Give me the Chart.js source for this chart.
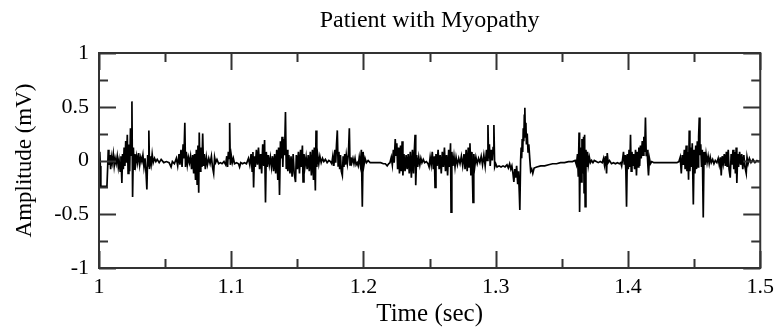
<!DOCTYPE html>
<html>
<head>
<meta charset="utf-8">
<script src="https://cdn.jsdelivr.net/npm/chart.js@4"></script>
<style>
  html, body { margin: 0; padding: 0; background: #fff; }
  #wrap { width: 780px; height: 329px; }
</style>
</head>
<body>
<div id="wrap"><canvas id="emg"></canvas></div>
<script>
const xTicks = [1, 1.1, 1.2, 1.3, 1.4, 1.5];
const yTicks = [-1, -0.5, 0, 0.5, 1];
const xMinor = [1.05, 1.15, 1.25, 1.35, 1.45];
const yMinor = [-0.75, -0.25, 0.25, 0.75];

// EMG trace: [time (sec), amplitude (mV)]
const samples = [
  [1.0000, 0.02], [1.0006, 0.08], [1.0010, -0.05], [1.0014, -0.24], [1.0030, -0.24],
  [1.0045, -0.24], [1.0060, -0.24], [1.0066, -0.05], [1.0070, 0.10], [1.0075, -0.04],
  [1.0082, 0.05], [1.0088, -0.08], [1.0094, 0.03], [1.0100, -0.02], [1.0108, 0.06],
  [1.0115, -0.05], [1.0122, 0.02], [1.0130, -0.03], [1.0138, 0.04], [1.0146, -0.06],
  [1.0152, 0.00], [1.0160, -0.10], [1.0166, 0.04], [1.0173, -0.21], [1.0178, 0.06],
  [1.0184, -0.08], [1.0190, 0.12], [1.0196, -0.05], [1.0202, 0.18], [1.0208, -0.02],
  [1.0214, 0.24], [1.0220, -0.12], [1.0226, 0.15], [1.0232, -0.10], [1.0238, 0.30],
  [1.0244, 0.05], [1.0249, 0.55], [1.0254, -0.34], [1.0260, 0.12], [1.0266, -0.08],
  [1.0272, 0.06], [1.0278, -0.03], [1.0285, 0.04], [1.0292, -0.02], [1.0300, 0.07],
  [1.0308, -0.04], [1.0316, 0.03], [1.0324, -0.01], [1.0332, 0.05], [1.0340, -0.06],
  [1.0348, 0.02], [1.0356, -0.12], [1.0362, -0.27], [1.0368, 0.05], [1.0374, -0.05],
  [1.0377, 0.28], [1.0382, -0.08], [1.0388, 0.04], [1.0395, -0.03], [1.0402, 0.06],
  [1.0410, -0.02], [1.0420, 0.02], [1.0430, -0.01], [1.0440, 0.01], [1.0455, -0.02],
  [1.0470, 0.01], [1.0490, -0.02], [1.0510, -0.01], [1.0530, -0.02], [1.0545, -0.06],
  [1.0555, -0.01], [1.0570, -0.03], [1.0585, 0.02], [1.0595, -0.05], [1.0605, 0.06],
  [1.0612, -0.04], [1.0620, 0.10], [1.0628, -0.06], [1.0636, 0.15], [1.0642, 0.02],
  [1.0649, 0.35], [1.0654, -0.06], [1.0660, 0.08], [1.0668, -0.04], [1.0676, 0.03],
  [1.0684, -0.02], [1.0692, 0.04], [1.0700, -0.08], [1.0708, 0.05], [1.0716, -0.12],
  [1.0722, 0.06], [1.0730, -0.18], [1.0736, 0.10], [1.0742, -0.22], [1.0748, 0.14],
  [1.0754, -0.30], [1.0758, 0.26], [1.0764, -0.10], [1.0770, 0.12], [1.0778, -0.06],
  [1.0784, 0.25], [1.0790, -0.05], [1.0796, 0.06], [1.0804, -0.08], [1.0812, 0.03],
  [1.0820, -0.04], [1.0830, 0.02], [1.0840, -0.03], [1.0850, 0.04], [1.0858, -0.06],
  [1.0867, -0.12], [1.0874, 0.03], [1.0882, -0.02], [1.0892, 0.01], [1.0905, -0.03],
  [1.0918, -0.02], [1.0930, -0.03], [1.0945, -0.01], [1.0958, -0.04], [1.0966, 0.04],
  [1.0972, -0.06], [1.0978, 0.08], [1.0984, 0.02], [1.0988, 0.35], [1.0993, -0.04],
  [1.1000, 0.05], [1.1008, -0.02], [1.1016, 0.02], [1.1025, -0.03], [1.1040, -0.02],
  [1.1055, -0.03], [1.1063, -0.06], [1.1072, -0.02], [1.1085, -0.03], [1.1100, -0.02],
  [1.1115, -0.03], [1.1130, 0.02], [1.1140, -0.04], [1.1150, 0.06], [1.1158, -0.10],
  [1.1164, 0.08], [1.1169, -0.25], [1.1175, 0.04], [1.1182, -0.06], [1.1190, 0.10],
  [1.1198, -0.04], [1.1206, 0.12], [1.1214, -0.08], [1.1222, 0.06], [1.1230, -0.12],
  [1.1238, 0.15], [1.1246, -0.05], [1.1252, 0.19], [1.1259, -0.39], [1.1265, 0.08],
  [1.1272, -0.06], [1.1280, 0.05], [1.1288, -0.04], [1.1296, 0.03], [1.1304, -0.06],
  [1.1312, 0.04], [1.1320, -0.10], [1.1328, 0.06], [1.1336, -0.12], [1.1344, 0.10],
  [1.1352, -0.18], [1.1358, 0.12], [1.1365, -0.32], [1.1372, 0.18], [1.1378, 0.02],
  [1.1384, 0.22], [1.1390, -0.06], [1.1396, 0.20], [1.1403, 0.05], [1.1410, 0.45],
  [1.1416, -0.08], [1.1422, 0.10], [1.1428, -0.10], [1.1436, 0.05], [1.1444, -0.12],
  [1.1452, 0.04], [1.1460, -0.15], [1.1468, 0.06], [1.1476, -0.12], [1.1486, -0.20],
  [1.1492, 0.05], [1.1500, -0.08], [1.1508, 0.08], [1.1516, -0.12], [1.1524, 0.10],
  [1.1530, -0.06], [1.1538, 0.14], [1.1543, -0.20], [1.1550, 0.06], [1.1558, -0.05],
  [1.1566, 0.03], [1.1574, -0.08], [1.1582, 0.05], [1.1590, -0.10], [1.1598, 0.08],
  [1.1606, -0.14], [1.1614, 0.10], [1.1622, -0.18], [1.1628, 0.12], [1.1636, -0.28],
  [1.1641, 0.28], [1.1647, -0.06], [1.1654, 0.05], [1.1662, -0.03], [1.1670, 0.04],
  [1.1680, -0.02], [1.1690, 0.02], [1.1700, -0.01], [1.1712, 0.01], [1.1725, -0.02],
  [1.1738, 0.00], [1.1750, -0.01], [1.1760, -0.03], [1.1768, 0.04], [1.1776, -0.05],
  [1.1784, 0.10], [1.1790, -0.02], [1.1796, 0.15], [1.1802, 0.28], [1.1808, -0.05],
  [1.1814, 0.08], [1.1820, -0.08], [1.1826, 0.05], [1.1832, -0.10], [1.1840, -0.14],
  [1.1846, 0.04], [1.1852, -0.06], [1.1858, 0.06], [1.1864, -0.04], [1.1870, 0.05],
  [1.1878, -0.03], [1.1886, 0.06], [1.1893, 0.30], [1.1898, -0.04], [1.1905, 0.03],
  [1.1912, -0.02], [1.1920, 0.02], [1.1928, -0.03], [1.1936, 0.02], [1.1944, -0.04],
  [1.1952, -0.02], [1.1960, -0.05], [1.1968, 0.03], [1.1976, -0.04], [1.1984, 0.10],
  [1.1991, -0.43], [1.1997, 0.08], [1.2004, -0.04], [1.2012, 0.02], [1.2022, -0.02],
  [1.2035, 0.00], [1.2050, -0.02], [1.2070, -0.02], [1.2090, -0.02], [1.2110, -0.02],
  [1.2130, -0.02], [1.2150, -0.03], [1.2165, -0.03], [1.2179, -0.05], [1.2190, -0.03],
  [1.2200, -0.02], [1.2210, 0.03], [1.2218, -0.04], [1.2226, 0.10], [1.2232, -0.02],
  [1.2240, 0.20], [1.2246, 0.05], [1.2252, 0.16], [1.2258, -0.08], [1.2266, 0.12],
  [1.2272, -0.12], [1.2280, 0.14], [1.2286, -0.10], [1.2292, 0.18], [1.2298, -0.14],
  [1.2306, 0.06], [1.2314, -0.10], [1.2322, 0.05], [1.2330, -0.08], [1.2338, 0.06],
  [1.2346, -0.12], [1.2354, 0.08], [1.2362, -0.16], [1.2370, 0.10], [1.2378, -0.12],
  [1.2384, 0.08], [1.2390, 0.24], [1.2395, -0.23], [1.2402, 0.05], [1.2410, -0.06],
  [1.2418, 0.03], [1.2426, -0.04], [1.2434, 0.02], [1.2442, -0.02], [1.2452, 0.01],
  [1.2462, -0.02], [1.2475, -0.01], [1.2488, -0.03], [1.2496, -0.06], [1.2504, 0.03],
  [1.2512, -0.04], [1.2520, 0.08], [1.2528, -0.08], [1.2536, 0.04], [1.2541, -0.25],
  [1.2548, 0.06], [1.2556, -0.05], [1.2564, 0.10], [1.2572, -0.08], [1.2580, 0.05],
  [1.2588, -0.12], [1.2596, 0.08], [1.2604, -0.06], [1.2612, 0.12], [1.2620, -0.10],
  [1.2628, 0.05], [1.2636, -0.14], [1.2644, 0.10], [1.2652, -0.06], [1.2658, 0.16],
  [1.2662, -0.48], [1.2668, 0.08], [1.2676, -0.05], [1.2684, 0.04], [1.2692, -0.06],
  [1.2700, 0.03], [1.2710, -0.04], [1.2720, 0.02], [1.2730, -0.03], [1.2740, 0.04],
  [1.2750, -0.05], [1.2760, 0.06], [1.2768, -0.08], [1.2776, 0.10], [1.2784, -0.10],
  [1.2792, 0.12], [1.2798, -0.06], [1.2805, 0.16], [1.2812, -0.14], [1.2820, 0.08],
  [1.2828, -0.39], [1.2834, 0.06], [1.2842, -0.05], [1.2850, 0.03], [1.2860, -0.03],
  [1.2870, 0.02], [1.2880, -0.02], [1.2890, 0.04], [1.2900, -0.04], [1.2910, 0.05],
  [1.2920, -0.05], [1.2930, 0.10], [1.2936, 0.00], [1.2941, 0.33], [1.2946, 0.02],
  [1.2952, 0.15], [1.2958, -0.05], [1.2966, 0.10], [1.2974, 0.00], [1.2980, 0.12],
  [1.2986, 0.33], [1.2992, -0.06], [1.3000, -0.03], [1.3010, -0.06], [1.3025, -0.05],
  [1.3040, -0.06], [1.3055, -0.05], [1.3070, -0.06], [1.3085, -0.04], [1.3095, -0.07],
  [1.3105, -0.03], [1.3114, -0.08], [1.3122, -0.05], [1.3130, -0.12], [1.3137, -0.20],
  [1.3144, -0.08], [1.3150, -0.16], [1.3158, -0.05], [1.3166, -0.22], [1.3172, -0.10],
  [1.3178, -0.30], [1.3182, -0.46], [1.3188, 0.00], [1.3192, 0.12], [1.3196, 0.02],
  [1.3200, 0.20], [1.3204, 0.08], [1.3208, 0.30], [1.3212, 0.18], [1.3216, 0.42],
  [1.3220, 0.49], [1.3224, 0.22], [1.3228, 0.35], [1.3232, 0.15], [1.3238, 0.25],
  [1.3244, 0.08], [1.3250, 0.15], [1.3257, 0.02], [1.3264, -0.10],
  [1.3272, -0.08], [1.3280, -0.12], [1.3290, -0.07], [1.3310, -0.06], [1.3340, -0.05],
  [1.3370, -0.05], [1.3400, -0.04], [1.3430, -0.03], [1.3460, -0.03], [1.3490, -0.02],
  [1.3520, -0.02], [1.3550, -0.01], [1.3580, -0.01], [1.3600, 0.00], [1.3610, -0.04],
  [1.3618, 0.06], [1.3624, -0.15], [1.3630, 0.26], [1.3634, -0.48], [1.3640, 0.12],
  [1.3646, -0.20], [1.3652, 0.20], [1.3658, -0.12], [1.3664, 0.22], [1.3668, -0.30],
  [1.3672, 0.24], [1.3676, -0.43], [1.3682, 0.10], [1.3688, -0.06], [1.3694, 0.08],
  [1.3700, -0.04], [1.3708, 0.03], [1.3716, -0.02], [1.3725, 0.00], [1.3735, -0.02],
  [1.3745, 0.00], [1.3760, -0.01], [1.3775, -0.02], [1.3790, -0.01], [1.3805, -0.02],
  [1.3815, 0.02], [1.3822, -0.04], [1.3830, 0.04], [1.3838, -0.12], [1.3843, 0.07],
  [1.3850, -0.02], [1.3860, 0.00], [1.3875, -0.03], [1.3890, -0.02], [1.3905, -0.03],
  [1.3920, -0.02], [1.3935, -0.03], [1.3945, -0.02], [1.3952, -0.05], [1.3960, 0.02],
  [1.3966, 0.08], [1.3972, -0.04], [1.3978, 0.05], [1.3984, -0.10], [1.3989, -0.43],
  [1.3995, 0.06], [1.4002, -0.08], [1.4008, 0.10], [1.4014, -0.06], [1.4019, 0.24],
  [1.4024, -0.10], [1.4030, 0.08], [1.4036, -0.05], [1.4042, 0.06], [1.4050, -0.08],
  [1.4057, 0.10], [1.4064, -0.14], [1.4070, 0.08], [1.4076, -0.06], [1.4082, 0.12],
  [1.4088, -0.05], [1.4094, 0.14], [1.4100, 0.02], [1.4108, 0.18], [1.4114, 0.05],
  [1.4120, 0.22], [1.4126, 0.08], [1.4132, 0.40], [1.4138, 0.04], [1.4144, 0.10],
  [1.4150, -0.04], [1.4155, -0.14], [1.4162, 0.02], [1.4170, -0.03], [1.4180, -0.01],
  [1.4195, -0.02], [1.4210, -0.02], [1.4230, -0.02], [1.4250, -0.02], [1.4270, -0.02],
  [1.4290, -0.02], [1.4310, -0.02], [1.4330, -0.02], [1.4350, -0.02], [1.4370, -0.02],
  [1.4385, -0.01], [1.4395, 0.03], [1.4403, -0.12], [1.4410, 0.05], [1.4418, -0.04],
  [1.4426, 0.10], [1.4432, -0.08], [1.4440, 0.14], [1.4446, -0.10], [1.4452, 0.08],
  [1.4458, -0.18], [1.4463, 0.28], [1.4468, -0.10], [1.4474, 0.12], [1.4480, -0.06],
  [1.4486, 0.16], [1.4494, -0.41], [1.4500, 0.10], [1.4506, -0.12], [1.4512, 0.14],
  [1.4518, -0.08], [1.4524, 0.18], [1.4530, -0.06], [1.4534, 0.22], [1.4539, 0.40],
  [1.4544, 0.05], [1.4550, 0.15], [1.4556, -0.06], [1.4562, 0.10], [1.4569, -0.53],
  [1.4575, 0.08], [1.4582, -0.04], [1.4590, 0.06], [1.4598, -0.02], [1.4606, 0.04],
  [1.4614, -0.03], [1.4622, 0.03], [1.4630, -0.02], [1.4640, 0.01], [1.4650, -0.03],
  [1.4660, 0.00], [1.4672, -0.02], [1.4682, 0.02], [1.4690, -0.04], [1.4698, 0.03],
  [1.4705, -0.14], [1.4712, 0.04], [1.4720, -0.03], [1.4728, 0.06], [1.4736, -0.05],
  [1.4744, 0.08], [1.4750, -0.06], [1.4758, 0.10], [1.4764, -0.08], [1.4773, -0.16],
  [1.4780, 0.06], [1.4786, -0.04], [1.4794, 0.10], [1.4800, -0.08], [1.4808, 0.08],
  [1.4812, -0.12], [1.4818, 0.12], [1.4823, -0.21], [1.4830, 0.06], [1.4836, -0.06],
  [1.4844, 0.08], [1.4852, -0.04], [1.4860, 0.06], [1.4868, -0.08], [1.4876, 0.05],
  [1.4884, -0.06], [1.4894, -0.12], [1.4900, 0.03], [1.4908, -0.03], [1.4918, 0.02],
  [1.4930, -0.02], [1.4945, 0.01], [1.4960, -0.02], [1.4975, 0.00], [1.4990, -0.01],
  [1.5000, 0.00]
];

const serif = "'Liberation Serif', 'Times New Roman', serif";

// grace-style frame with inward ticks on all four sides
const frameTicks = {
  id: 'frameTicks',
  afterDatasetsDraw(chart) {
    const { ctx, chartArea: a, scales: { x, y } } = chart;
    ctx.save();
    ctx.strokeStyle = '#333';
    ctx.lineWidth = 2;
    ctx.beginPath();
    const vTick = (vals, len) => vals.forEach(v => {
      const px = Math.round(x.getPixelForValue(v)) + 0.5;
      ctx.moveTo(px, a.bottom); ctx.lineTo(px, a.bottom - len);
      ctx.moveTo(px, a.top); ctx.lineTo(px, a.top + len);
    });
    const hTick = (vals, len) => vals.forEach(v => {
      const py = Math.round(y.getPixelForValue(v)) + 0.5;
      ctx.moveTo(a.left, py); ctx.lineTo(a.left + len, py);
      ctx.moveTo(a.right, py); ctx.lineTo(a.right - len, py);
    });
    vTick(xTicks, 17);
    vTick(xMinor, 9);
    hTick(yTicks, 17);
    hTick(yMinor, 9);
    ctx.stroke();
    ctx.strokeRect(a.left, a.top, a.right - a.left, a.bottom - a.top);
    ctx.restore();
  }
};

new Chart(document.getElementById('emg'), {
  type: 'line',
  data: {
    datasets: [{
      label: 'Myopathy EMG',
      data: samples.map(([t, v]) => ({ x: t, y: v })),
      borderColor: '#000',
      borderWidth: 1.7,
      pointRadius: 0,
      tension: 0,
      fill: false,
    }],
  },
  options: {
    responsive: true,
    maintainAspectRatio: false,
    animation: false,
    layout: { padding: { top: 0, right: 18, bottom: 0, left: 0 } },
    plugins: {
      legend: { display: false },
      tooltip: { enabled: false },
      title: {
        display: true,
        fullSize: false,
        text: 'Patient with Myopathy',
        color: '#000',
        font: { family: serif, size: 24, weight: 'normal' },
        padding: { top: 6, bottom: 18.2 },
      },
    },
    scales: {
      x: {
        type: 'linear',
        min: 1,
        max: 1.5,
        afterBuildTicks: s => { s.ticks = xTicks.map(v => ({ value: v })); },
        afterFit: s => { s.height = 61; },
        grid: { display: false, drawTicks: false },
        border: { display: false },
        ticks: {
          color: '#000',
          padding: 6,
          maxRotation: 0,
          font: { family: serif, size: 22 },
          callback: v => String(v),
        },
        title: {
          display: true,
          text: 'Time (sec)',
          color: '#000',
          font: { family: serif, size: 25 },
          padding: { top: 0, bottom: 0 },
        },
      },
      y: {
        min: -1,
        max: 1,
        afterBuildTicks: s => { s.ticks = yTicks.map(v => ({ value: v })); },
        afterFit: s => { s.width = 99; },
        grid: { display: false, drawTicks: false },
        border: { display: false },
        ticks: {
          color: '#000',
          padding: 10,
          font: { family: serif, size: 22 },
          callback: v => String(v),
        },
        title: {
          display: true,
          text: 'Amplitude (mV)',
          color: '#000',
          font: { family: serif, size: 23 },
          padding: { top: 11, bottom: 0 },
        },
      },
    },
  },
  plugins: [frameTicks],
});
</script>
</body>
</html>
